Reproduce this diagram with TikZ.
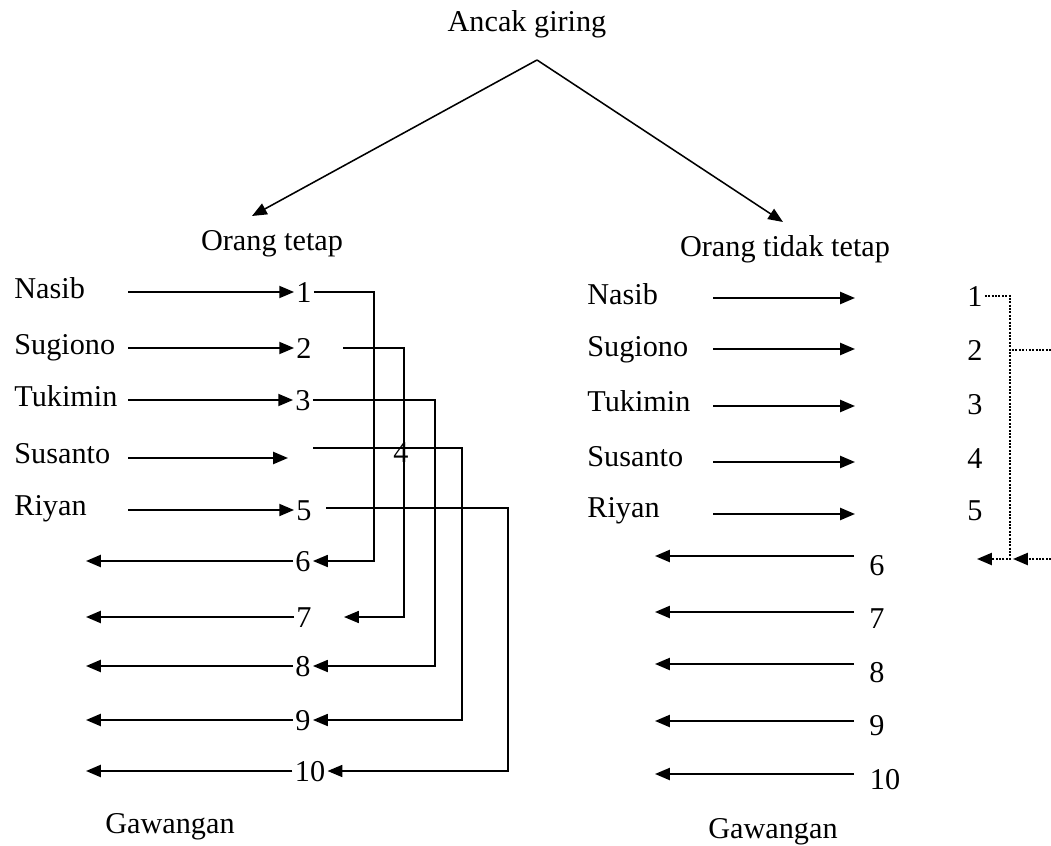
\documentclass[tikz,border=0pt]{standalone}
\usepackage{fontspec}
\setmainfont{Liberation Serif}
\usetikzlibrary{arrows.meta}

\begin{document}
\begin{tikzpicture}[x=0.025cm, y=-0.025cm, line width=1.4pt,
    >={Triangle[length=0.37cm,width=0.3cm]},
    every node/.style={font=\fontsize{21.5}{26}\selectfont, inner sep=1pt,
      text height=14.5pt, text depth=0pt},
    person/.style={anchor=west},
    dotline/.style={densely dotted, line width=1.4pt}]
    \useasboundingbox (0,0) rectangle (1051,846);

    % top split
    \node (ancak) at (527,21) {Ancak giring};
    \coordinate (apex) at (537,60);
    \coordinate (tetapTip) at (252,216);
    \coordinate (tidakTip) at (783,222);
    \node (tetap) at (272,240) {Orang tetap};
    \node (tidak) at (785,246) {Orang tidak tetap};
    \draw[line width=1.1pt]
      (apex) edge[->] (tetapTip)
      (apex) edge[->] (tidakTip)
      ;

    % orang tetap
    \node[person] (nasibA) at (12,288) {Nasib};
    \node[person] (sugionoA) at (12,344) {Sugiono};
    \node[person] (tukiminA) at (12,396) {Tukimin};
    \node[person] (susantoA) at (12,453) {Susanto};
    \node[person] (riyanA) at (12,505) {Riyan};
    \node (n1) at (304,292) {1};
    \node (n2) at (304,348) {2};
    \node (n3) at (303,400) {3};
    \coordinate (a4) at (288,458);
    \node (n5) at (304,510) {5};
    \node (n6) at (303,561) {6};
    \node (n7) at (304,617) {7};
    \node (n8) at (303,666) {8};
    \node (n9) at (303,720) {9};
    \node (n10) at (310,771) {10};
    \node (n4) at (401,452) {4};
    \coordinate (s2) at (343,348);
    \coordinate (e7) at (344,617);
    \coordinate (s4) at (313,448);
    \coordinate (s5) at (326,508);
    \node (gawA) at (170,823) {Gawangan};
    \draw
      (n1 -| 128,0) edge[->] (n1.west)
      (n2 -| 128,0) edge[->] (n2.west)
      (n3 -| 128,0) edge[->] (n3.west)
      (a4 -| 128,0) edge[->] (a4)
      (n5 -| 128,0) edge[->] (n5.west)
      (n6.west) edge[->] (n6 -| 86,0)
      (n7.west) edge[->] (n7 -| 86,0)
      (n8.west) edge[->] (n8 -| 86,0)
      (n9.west) edge[->] (n9 -| 86,0)
      (n10.west) edge[->] (n10 -| 86,0)
      ;
    \draw[->,line width=1.1pt] (n1.east) -- (n1.east -| 374,0) |- (n6.east);
    \draw[->,line width=1.1pt] (s2) -- (s2 -| 404,0) |- (e7);
    \draw[->,line width=1.1pt] (n3.east) -- (n3.east -| 435,0) |- (n8.east);
    \draw[->,line width=1.1pt] (s4) -- (s4 -| 462,0) |- (n9.east);
    \draw[->,line width=1.1pt] (s5) -- (s5 -| 508,0) |- (n10.east);

    % orang tidak tetap
    \node[person] (nasibB) at (585,294) {Nasib};
    \node[person] (sugionoB) at (585,346) {Sugiono};
    \node[person] (tukiminB) at (585,401) {Tukimin};
    \node[person] (susantoB) at (585,456) {Susanto};
    \node[person] (riyanB) at (585,507) {Riyan};
    \coordinate (b1) at (855,298);
    \coordinate (b2) at (855,349);
    \coordinate (b3) at (855,406);
    \coordinate (b4) at (855,462);
    \coordinate (b5) at (855,514);
    \coordinate (c6) at (854,556);
    \coordinate (c7) at (854,612);
    \coordinate (c8) at (854,664);
    \coordinate (c9) at (854,721);
    \coordinate (c10) at (854,774);
    \node (m6) at (877,565) {6};
    \node (m7) at (877,618) {7};
    \node (m8) at (877,672) {8};
    \node (m9) at (877,725) {9};
    \node (m10) at (885,779) {10};
    \node (gawB) at (773,828) {Gawangan};
    \draw
      (b1 -| 713,0) edge[->] (b1)
      (b2 -| 713,0) edge[->] (b2)
      (b3 -| 713,0) edge[->] (b3)
      (b4 -| 713,0) edge[->] (b4)
      (b5 -| 713,0) edge[->] (b5)
      (c6) edge[->] (c6 -| 655,0)
      (c7) edge[->] (c7 -| 655,0)
      (c8) edge[->] (c8 -| 655,0)
      (c9) edge[->] (c9 -| 655,0)
      (c10) edge[->] (c10 -| 655,0)
      ;

    % right edge
    \node (r1) at (975,296) {1};
    \node (r2) at (975,350) {2};
    \node (r3) at (975,404) {3};
    \node (r4) at (975,458) {4};
    \node (r5) at (975,510) {5};
    \coordinate (dTip) at (977,559);
    \draw[dotline,->] (r1.east) -| (dTip -| 1010,0) -- (dTip);
    \draw[dotline] (r2 -| 1012,0) -- (r2 -| 1051,0);
    \draw[dotline,->] (dTip -| 1051,0) -- (dTip -| 1013,0);
\end{tikzpicture}
\end{document}
